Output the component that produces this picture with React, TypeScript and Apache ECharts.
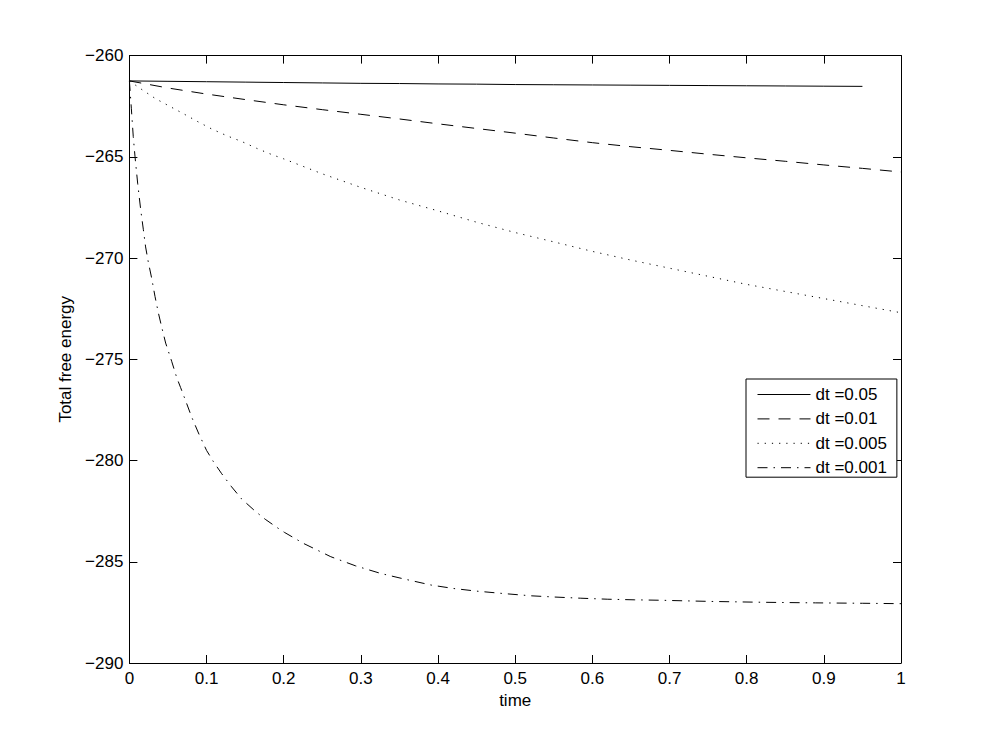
import React, { useEffect, useRef } from "react";
import * as echarts from "echarts";

const seriesNames = ["dt =0.05", "dt =0.01", "dt =0.005", "dt =0.001"];

const tSolid = [0, 0.05, 0.1, 0.15, 0.2, 0.25, 0.3, 0.35, 0.4, 0.45, 0.5, 0.55, 0.6, 0.65, 0.7, 0.75, 0.8, 0.85, 0.9, 0.95];
const eSolid = [-261.25, -261.27, -261.29, -261.31, -261.33, -261.35, -261.37, -261.38, -261.4, -261.41, -261.43, -261.44, -261.45, -261.46, -261.47, -261.48, -261.49, -261.5, -261.51, -261.52];

const tDashed = [0, 0.05, 0.1, 0.15, 0.2, 0.25, 0.3, 0.35, 0.4, 0.45, 0.5, 0.55, 0.6, 0.65, 0.7, 0.75, 0.8, 0.85, 0.9, 0.95, 1.0];
const eDashed = [-261.25, -261.6, -261.9, -262.17, -262.43, -262.67, -262.9, -263.13, -263.37, -263.6, -263.83, -264.07, -264.3, -264.5, -264.68, -264.87, -265.05, -265.22, -265.4, -265.57, -265.75];

const tDotted = [0, 0.017, 0.034, 0.053, 0.071, 0.089, 0.107, 0.127, 0.146, 0.165, 0.184, 0.2, 0.25, 0.3, 0.35, 0.4, 0.45, 0.5, 0.55, 0.6, 0.65, 0.7, 0.75, 0.8, 0.85, 0.9, 0.95, 1.0];
const eDotted = [-261.25, -261.7, -262.13, -262.52, -262.89, -263.27, -263.63, -263.97, -264.25, -264.58, -264.88, -265.1, -265.84, -266.51, -267.13, -267.67, -268.23, -268.74, -269.2, -269.67, -270.1, -270.5, -270.9, -271.3, -271.65, -272.0, -272.35, -272.7];

const tDashDot = [0, 0.0025, 0.005, 0.0073, 0.0107, 0.0146, 0.0181, 0.021, 0.0245, 0.0289, 0.0332, 0.0375, 0.0418, 0.047, 0.0548, 0.0613, 0.0664, 0.0734, 0.0807, 0.0902, 0.1, 0.1088, 0.1196, 0.1325, 0.1455, 0.163, 0.176, 0.191, 0.201, 0.226, 0.261, 0.293, 0.326, 0.356, 0.391, 0.42, 0.45, 0.485, 0.52, 0.55, 0.585, 0.62, 0.655, 0.687, 0.72, 0.755, 0.819, 0.889, 0.95, 1.0];
const eDashDot = [-261.25, -262.6, -264.0, -265.0, -266.3, -267.6, -268.6, -269.45, -270.2, -271.0, -271.9, -272.7, -273.4, -274.2, -275.1, -275.9, -276.4, -277.1, -277.85, -278.7, -279.5, -280.05, -280.65, -281.3, -281.9, -282.5, -282.9, -283.3, -283.55, -284.1, -284.75, -285.2, -285.58, -285.85, -286.15, -286.32, -286.45, -286.57, -286.68, -286.74, -286.8, -286.85, -286.88, -286.9, -286.93, -286.96, -287.0, -287.03, -287.05, -287.07];

const xTitle = "time";
const yTitle = "Total free energy";

const FONT = "Liberation Sans, Arial, Helvetica, sans-serif";

function pairs(t: number[], e: number[]) {
  return t.map((x, i) => [x, e[i]]);
}

export default function App() {
  const ref = useRef<HTMLDivElement>(null);
  useEffect(() => {
    if (!ref.current) return;
    const chart = echarts.init(ref.current, undefined, { renderer: "svg" });
    const axisLine = { show: true, onZero: false, lineStyle: { color: "#000", width: 1 } };
    const tick = { show: true, inside: true, length: 8, lineStyle: { color: "#000", width: 1 } };
    const label = { color: "#000", fontFamily: FONT, fontSize: 17 };
    const styles: any[] = [
      { type: "solid" },
      { type: [12, 9] },
      { type: [1.2, 6] },
      { type: [10, 6, 1.5, 6] },
    ];
    const datas = [pairs(tSolid, eSolid), pairs(tDashed, eDashed), pairs(tDotted, eDotted), pairs(tDashDot, eDashDot)];
    chart.setOption({
      animation: false,
      backgroundColor: "#fff",
      grid: { left: 129.4, right: 94, top: 55.6, bottom: 83, containLabel: false },
      xAxis: [
        {
          type: "value", min: 0, max: 1, interval: 0.1, position: "bottom",
          axisLine, axisTick: tick, splitLine: { show: false },
          axisLabel: { ...label, margin: 7 },
          name: xTitle, nameLocation: "middle", nameGap: 27,
          nameTextStyle: { color: "#000", fontFamily: FONT, fontSize: 17 },
        },
        {
          type: "value", min: 0, max: 1, interval: 0.1, position: "top",
          axisLine, axisTick: tick, splitLine: { show: false }, axisLabel: { show: false },
        },
      ],
      yAxis: [
        {
          type: "value", min: -290, max: -260, interval: 5, position: "left",
          axisLine, axisTick: tick, splitLine: { show: false },
          axisLabel: { ...label, margin: 6, formatter: (v: number) => String(v).replace("-", "\u2212") },
          name: yTitle, nameLocation: "middle", nameGap: 53, nameRotate: 90,
          nameTextStyle: { color: "#000", fontFamily: FONT, fontSize: 17 },
        },
        {
          type: "value", min: -290, max: -260, interval: 5, position: "right",
          axisLine, axisTick: tick, splitLine: { show: false }, axisLabel: { show: false },
        },
      ],
      legend: {
        orient: "vertical",
        left: 746,
        top: 379,
        padding: [7, 10, 1, 11],
        itemWidth: 53,
        itemHeight: 10,
        itemGap: 7.4,
        borderColor: "#000",
        borderWidth: 1,
        backgroundColor: "#fff",
        itemStyle: { opacity: 0, borderWidth: 0 },
        lineStyle: { width: 1 },
        textStyle: { color: "#000", fontFamily: FONT, fontSize: 17 },
        data: seriesNames,
      },
      series: seriesNames.map((name, i) => ({
        name,
        type: "line",
        xAxisIndex: 0,
        yAxisIndex: 0,
        data: datas[i],
        symbol: "none",
        showSymbol: false,
        smooth: false,
        lineStyle: { color: "#000", width: 1, ...styles[i] },
        itemStyle: { color: "#000" },
        z: 2,
      })),
    });
    return () => chart.dispose();
  }, []);
  return (
    <div
      ref={ref}
      style={{ position: "fixed", left: 0, top: 0, width: 995, height: 746, background: "#fff" }}
    />
  );
}
